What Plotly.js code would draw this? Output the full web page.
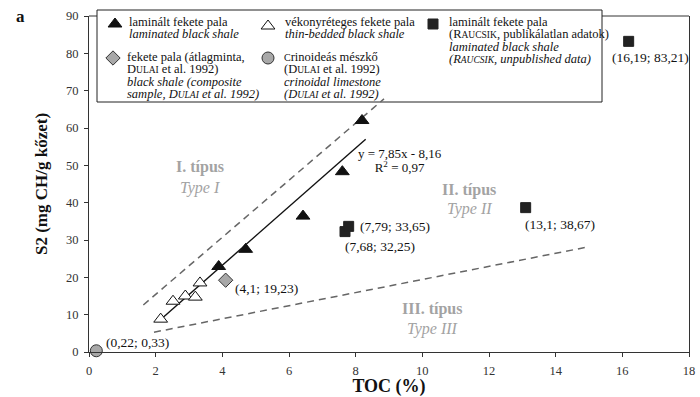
<!DOCTYPE html>
<html>
<head>
<meta charset="utf-8">
<script src="https://cdn.plot.ly/plotly-3.0.1.min.js"></script>
<style>html,body{margin:0;padding:0;background:#fff;}#chart{width:700px;height:397px;}</style>
</head>
<body>
<div id="chart"></div>
<script>
// ---- data ----
const tocLaminated = [3.89, 4.70, 6.42, 7.60, 8.19];
const s2Laminated  = [22.9, 27.5, 36.4, 48.3, 62.0];
const tocThin = [2.15, 2.52, 2.89, 3.19, 3.33];
const s2Thin  = [8.8, 13.6, 15.0, 14.7, 18.5];
const tocComposite = [4.1];
const s2Composite  = [19.23];
const tocCrinoid = [0.22];
const s2Crinoid  = [0.33];
const tocRaucsik = [7.68, 7.79, 13.1, 16.19];
const s2Raucsik  = [32.25, 33.65, 38.67, 83.21];
const raucsikLabels = ["(7,68; 32,25)", "(7,79; 33,65)", "(13,1; 38,67)", "(16,19; 83,21)"];
const compositeLabel = "(4,1; 19,23)";
const crinoidLabel = "(0,22; 0,33)";
const fitSlope = 7.85, fitIntercept = -8.16;
const fitToc = [2.1, 8.3];
const type1Toc = [1.63, 8.85];
const type1S2  = [12.6, 67.8];
const type3Toc = [1.95, 15.0];
const type3S2  = [5.3, 28.2];
const xTicks = [0, 2, 4, 6, 8, 10, 12, 14, 16, 18];
const yTicks = [0, 10, 20, 30, 40, 50, 60, 70, 80, 90];

const SERIF = "Liberation Serif, Times New Roman, serif";
const dashStyle = {color: "#666", width: 1.5, dash: "7px,5px"};

const traces = [
  {x: type1Toc, y: type1S2, mode: "lines", line: dashStyle, hoverinfo: "skip"},
  {x: type3Toc, y: type3S2, mode: "lines", line: dashStyle, hoverinfo: "skip"},
  {x: fitToc, y: fitToc.map(v => fitSlope * v + fitIntercept), mode: "lines",
   line: {color: "#111", width: 1.4}},
  {x: tocThin, y: s2Thin, mode: "markers",
   marker: {symbol: "triangle-up", size: 12, color: "#fff", line: {color: "#111", width: 1}}},
  {x: tocLaminated, y: s2Laminated, mode: "markers",
   marker: {symbol: "triangle-up", size: 12, color: "#111", line: {color: "#111", width: 1}}},
  {x: tocComposite, y: s2Composite, mode: "markers",
   marker: {symbol: "diamond", size: 11, color: "#a8a8a8", line: {color: "#333", width: 1}}},
  {x: tocCrinoid, y: s2Crinoid, mode: "markers", cliponaxis: false,
   marker: {symbol: "circle", size: 12, color: "#a8a8a8", line: {color: "#333", width: 1}}},
  {x: tocRaucsik, y: s2Raucsik, mode: "markers",
   marker: {symbol: "square", size: 10, color: "#222", line: {color: "#222", width: 1}}}
];

// legend symbols (pixel-like overlay axes)
const legSymX = [115, 268, 433, 113, 268];
const legSymY = [24, 26, 24, 58, 58];
const legSym = [
  {symbol: "triangle-up", size: 12, color: "#111", line: {color: "#111", width: 1}},
  {symbol: "triangle-up", size: 12, color: "#fff", line: {color: "#111", width: 1}},
  {symbol: "square", size: 10, color: "#222", line: {color: "#222", width: 1}},
  {symbol: "diamond", size: 11, color: "#a8a8a8", line: {color: "#333", width: 1}},
  {symbol: "circle", size: 12, color: "#a8a8a8", line: {color: "#333", width: 1}}
];
legSym.forEach((m, i) => traces.push({
  x: [legSymX[i]], y: [legSymY[i]], xaxis: "x2", yaxis: "y2", mode: "markers",
  marker: m, cliponaxis: false, hoverinfo: "skip"
}));

const sc = s => s.replace(/\{(\w)(\w+)\}/g, (m, a, b) => a + "<span style='font-size:9.5px'>" + b.toUpperCase() + "</span>");
const LEG_SPACING = 12.4;
const legendBlocks = [
  {x: 127, y: 22, lines: ["laminált fekete pala", "<i>laminated black shale</i>"]},
  {x: 283, y: 22, lines: ["vékonyréteges fekete pala", "<i>thin-bedded black shale</i>"]},
  {x: 447, y: 22, lines: ["laminált fekete pala", "({Raucsik}, publikálatlan adatok)",
                          "<i>laminated black shale</i>", "<i>({Raucsik}, unpublished data)</i>"]},
  {x: 125, y: 57, lines: ["fekete pala (átlagminta,", "{Dulai} et al. 1992)",
                          "<i>black shale (composite</i>", "<i>sample, {Dulai} et al. 1992)</i>"]},
  {x: 282, y: 57, lines: ["<span style='font-size:10px'>C</span>rinoideás mészkő", "({Dulai} et al. 1992)",
                          "<i>crinoidal limestone</i>", "<i>({Dulai} et al. 1992)</i>"]}
];
const annotations = [];
// one annotation per block; base font sets the line pitch, spans set the glyph size
legendBlocks.forEach(b => annotations.push({
  xref: "x2", yref: "y2", x: b.x, y: b.y + (b.lines.length - 1) * LEG_SPACING / 2,
  text: b.lines.map(t => "<span style='font-size:12.5px'>" + sc(t) + "</span>").join("<br>"),
  showarrow: false, xanchor: "left", yanchor: "middle", align: "left",
  font: {family: SERIF, size: LEG_SPACING / 1.3, color: "#111"}
}));

const lblFont = {family: SERIF, size: 13.5, color: "#111"};
const raucsikShift = [[-2, -15], [9, 0], [-3, -17], [-19, -16]];
raucsikLabels.forEach((t, i) => annotations.push({
  x: tocRaucsik[i], y: s2Raucsik[i], text: t, showarrow: false, xanchor: "left", yanchor: "middle",
  xshift: raucsikShift[i][0], yshift: raucsikShift[i][1], font: lblFont
}));
annotations.push({x: tocComposite[0], y: s2Composite[0], text: compositeLabel, showarrow: false,
  xanchor: "left", yanchor: "middle", xshift: 7, yshift: -8, font: lblFont});
annotations.push({x: tocCrinoid[0], y: s2Crinoid[0], text: crinoidLabel, showarrow: false,
  xanchor: "left", yanchor: "middle", xshift: 8, yshift: 8, font: lblFont});

// regression equation (two lines, 14 px pitch)
annotations.push({x: 9.34, y: 51.4,
  text: "<span style='font-size:13px'>y = 7,85x - 8,16</span><br><span style='font-size:13px'>R<sup>2</sup> = 0,97</span>",
  showarrow: false, xanchor: "center", yanchor: "middle", align: "center",
  font: {family: SERIF, size: 14 / 1.3, color: "#111"}});

// kerogen type labels
const typeGray = "#a3a3a3";
[[3.34, 49.6, "<b>I. típus</b>"], [3.34, 43.9, "<i>Type I</i>"],
 [11.41, 43.4, "<b>II. típus</b>"], [11.41, 38.3, "<i>Type II</i>"],
 [10.3, 11.5, "<b>III. típus</b>"], [10.3, 6.2, "<i>Type III</i>"]].forEach(a => annotations.push({
  x: a[0], y: a[1], text: a[2], showarrow: false, xanchor: "center", yanchor: "middle",
  font: {family: SERIF, size: 16, color: typeGray}
}));

annotations.push({xref: "paper", yref: "paper", x: -0.115, y: 1.0, text: "<b>a</b>", showarrow: false,
  xanchor: "center", yanchor: "middle", font: {family: SERIF, size: 17, color: "#111"}});

const shapes = [
  {type: "line", xref: "paper", yref: "paper", x0: 0, x1: 1, y0: 1, y1: 1, layer: "below",
   line: {color: "#333", width: 1}},
  {type: "rect", xref: "paper", yref: "paper", layer: "below",
   x0: (97 - 89) / 600, x1: (602 - 89) / 600, y0: (352 - 102) / 336, y1: (352 - 10) / 336,
   fillcolor: "#fff", line: {color: "#222", width: 1}}
];

const axisCommon = {showgrid: false, zeroline: false, showline: true, linecolor: "#333", linewidth: 1,
  ticks: "outside", ticklen: 4, tickcolor: "#333", tickfont: {family: SERIF, size: 12.5, color: "#333"}};

const layout = {
  width: 700, height: 397, margin: {l: 89, r: 11, t: 16, b: 45},
  paper_bgcolor: "#fff", plot_bgcolor: "#fff", showlegend: false,
  font: {family: SERIF},
  xaxis: Object.assign({}, axisCommon, {range: [0, 18], tickvals: xTicks, ticklabelstandoff: 3,
    title: {text: "<b>TOC (%)</b>", font: {family: SERIF, size: 18, color: "#111"}, standoff: 5}}),
  yaxis: Object.assign({}, axisCommon, {range: [0, 90], tickvals: yTicks, mirror: true, ticklabelstandoff: 3,
    title: {text: "<b>S2 (mg CH/g kőzet)</b>", font: {family: SERIF, size: 17, color: "#111"}, standoff: 14}}),
  xaxis2: {overlaying: "x", range: [89, 689], visible: false},
  yaxis2: {overlaying: "y", range: [352, 16], visible: false},
  shapes: shapes,
  annotations: annotations
};

Plotly.newPlot("chart", traces, layout, {displayModeBar: false, staticPlot: true});
</script>
</body>
</html>
